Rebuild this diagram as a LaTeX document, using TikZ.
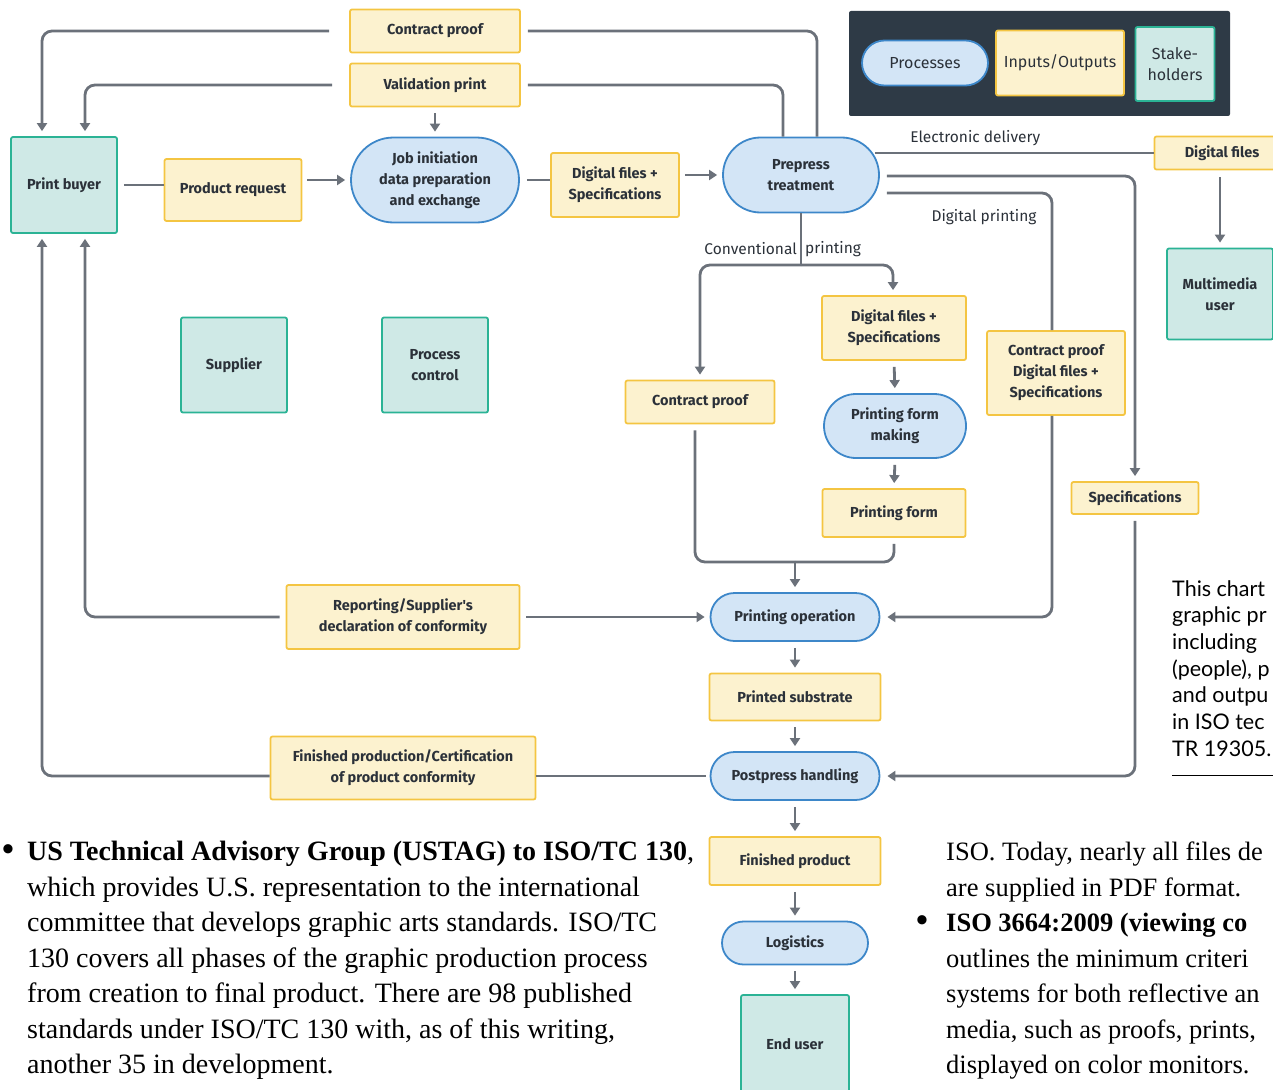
\documentclass[tikz,border=0pt]{standalone}
\usepackage{fontspec}
\usetikzlibrary{arrows.meta}
\usetikzlibrary{shapes.misc}

\newfontfamily\dinfont{Fira Sans}
\newfontfamily\bodyfont{Liberation Serif}
\newfontfamily\notefont{Lato}

\definecolor{iofill}{HTML}{FCF2CF}
\definecolor{iodraw}{HTML}{F4C542}
\definecolor{procfill}{HTML}{D3E5F6}
\definecolor{procdraw}{HTML}{3D87C9}
\definecolor{stakefill}{HTML}{CFE9E6}
\definecolor{stakedraw}{HTML}{2BB395}
\definecolor{flowgray}{HTML}{6B717A}
\definecolor{labeltext}{HTML}{2B3139}
\definecolor{keybg}{HTML}{2E3A46}

\tikzset{
  boxtext/.style={font=\dinfont\bfseries\fontsize{14.5}{21}\selectfont, text=labeltext, align=center, line width=1.8pt, inner sep=1pt},
  io/.style={boxtext, draw=iodraw, fill=iofill, rounded corners=2pt},
  proc/.style={boxtext, rounded rectangle, draw=procdraw, fill=procfill},
  stake/.style={boxtext, draw=stakedraw, fill=stakefill, rounded corners=2pt},
  flow/.style={draw=flowgray, line width=2.8pt, rounded corners=10pt},
  arr/.style={flow, -{Triangle[width=10pt,length=8pt]}, shorten >=5pt},
  flowlabel/.style={font=\dinfont\fontsize{15.5}{18}\selectfont, text=labeltext, inner sep=0pt},
  keytext/.style={font=\dinfont\fontsize{16}{21}\selectfont},
  bodytext/.style={font=\bodyfont\fontsize{28}{35.5}\selectfont, align=left, inner sep=0pt},
}

\begin{document}
\begin{tikzpicture}[x=1pt,y=-1pt]
\useasboundingbox (0,0) rectangle (1273,1089);
\clip (0,0) rectangle (1273,1089);

% key
\fill[keybg, rounded corners=2pt] (849,11) rectangle (1230,116);
\node[proc, keytext, minimum width=128, minimum height=45] (keyproc) at (925,63) {Processes};
\node[io, keytext, minimum width=128, minimum height=65] (keyio) at (1060,63) {Inputs/Outputs};
\node[stake, keytext, minimum width=79, minimum height=74] (keystake) at (1175,64) {Stake-\\holders};

% stakeholders
\node[stake, minimum width=106, minimum height=96] (buyer) at (64,185) {Print buyer};
\node[stake, minimum width=106, minimum height=95] (supplier) at (234,365) {Supplier};
\node[stake, minimum width=106, minimum height=95] (pcontrol) at (435,365) {Process\\control};
\node[stake, minimum width=106, minimum height=91] (mmuser) at (1220,294) {Multimedia\\user};
\node[stake, minimum width=108, minimum height=98] (enduser) at (795,1044) {End user};

% processes
\node[proc, minimum width=170, minimum height=85] (jobinit) at (435,180) {Job initiation\\data preparation\\and exchange};
\node[proc, minimum width=158, minimum height=75] (prepress) at (801,175) {Prepress\\treatment};
\node[proc, minimum width=144, minimum height=64] (pfmaking) at (895,426) {Printing form\\making};
\node[proc, minimum width=171, minimum height=48] (printop) at (795,617) {Printing operation};
\node[proc, minimum width=171, minimum height=48] (postpress) at (795,776) {Postpress handling};
\node[proc, minimum width=148, minimum height=43] (logistics) at (795,943) {Logistics};

% inputs / outputs
\node[io, minimum width=170, minimum height=43] (cproofA) at (435,31) {Contract proof};
\node[io, minimum width=170, minimum height=43] (valprint) at (435,85) {Validation print};
\node[io, minimum width=137, minimum height=62] (prodreq) at (233,190) {Product request};
\node[io, minimum width=128, minimum height=64] (dfspecA) at (615,185) {Digital files +\\Specifications};
\node[io, minimum width=135, minimum height=33] (dfiles) at (1222,153) {Digital files};
\node[io, minimum width=149, minimum height=43] (cproofB) at (700,402) {Contract proof};
\node[io, minimum width=144, minimum height=64] (dfspecB) at (894,328) {Digital files +\\Specifications};
\node[io, minimum width=143, minimum height=48] (pform) at (894,513) {Printing form};
\node[io, minimum width=138, minimum height=84] (cpdfspec) at (1056,373) {Contract proof\\Digital files +\\Specifications};
\node[io, minimum width=127, minimum height=32] (specs) at (1135,498) {Specifications};
\node[io, minimum width=233, minimum height=64] (report) at (403,617) {Reporting/Supplier's\\declaration of conformity};
\node[io, minimum width=171, minimum height=47] (substrate) at (795,697) {Printed substrate};
\node[io, minimum width=265, minimum height=63] (finprod) at (403,768) {Finished production/Certification\\of product conformity};
\node[io, minimum width=171, minimum height=48] (finished) at (795,861) {Finished product};

% top loops back to the print buyer
\draw[arr] ([xshift=-20pt]cproofA.west) -| ([xshift=-22pt]buyer.north);
\draw[arr] ([xshift=-17pt]valprint.west) -| ([xshift=21pt]buyer.north);
\draw[flow] ([xshift=7pt]cproofA.east) -| ([xshift=16pt]prepress.north);
\draw[flow] ([xshift=7pt]valprint.east) -| ([xshift=-18pt]prepress.north);
\draw[arr, shorten <=6pt] (valprint.south) -- (jobinit.north);

% job flow
\draw[flow, shorten <=6pt] (buyer.east) -- (prodreq.west |- buyer.east);
\draw[arr, shorten <=5pt] (prodreq.east |- jobinit.west) -- (jobinit.west);
\draw[flow, shorten <=7pt] (jobinit.east) -- (dfspecA.west |- jobinit.east);
\draw[arr, shorten <=5pt] (dfspecA.east |- prepress.west) -- (prepress.west);

% electronic delivery
\draw[flow] ([xshift=-5pt,yshift=22pt]prepress.east) -- (dfiles.west |- 0,153)
  node[flowlabel, pos=0.36, above=6pt] (eldeliv) {Electronic delivery};
\draw[arr, shorten <=7pt] (dfiles.south -| mmuser.north) -- (mmuser.north);

% digital printing
\draw[arr] ([xshift=7pt,yshift=-1pt]prepress.east) -| (specs.north);
\draw[flow] ([xshift=7pt,yshift=-18pt]prepress.east) -| ([xshift=-4pt]cpdfspec.north);
\draw[arr] ([xshift=-4pt]cpdfspec.south) |- ([xshift=2pt]printop.east);
\node[flowlabel] (digprint) at (984,217) {Digital printing};
\draw[arr, shorten <=6pt] (specs.south) |- ([xshift=2pt]postpress.east);

% conventional printing
\coordinate (conv) at (801,265);
\draw[flow] (prepress.south) -- (conv);
\draw[arr] (conv) -| (cproofB.north);
\draw[arr] (conv) -| ([xshift=-1pt]dfspecB.north);
\node[flowlabel, anchor=east] (convA) at (797,249) {Conventional};
\node[flowlabel, anchor=west] (convB) at (805,249) {printing};
\draw[arr, shorten <=6pt] (dfspecB.south) -- (pfmaking.north);
\draw[arr, shorten <=6pt] (pfmaking.south) -- (pform.north);

% into printing
\coordinate (join) at (795,562);
\draw[flow] ([xshift=-5pt,yshift=-6pt]cproofB.south) |- (join);
\draw[flow] ([yshift=-6pt]pform.south) |- (join);
\draw[arr] (join) -- (printop.north);
\draw[arr, shorten <=6pt] (report.east) -- (printop.west);
\draw[arr] ([xshift=-6pt]report.west) -| ([xshift=21pt]buyer.south);

% down the line
\draw[arr, shorten <=6pt] (printop.south) -- (substrate.north);
\draw[arr, shorten <=6pt] (substrate.south) -- (postpress.north);
\draw[arr, shorten <=6pt] (postpress.south) -- (finished.north);
\draw[arr, shorten <=6pt] (finished.south) -- (logistics.north);
\draw[arr, shorten <=6pt] (logistics.south) -- (enduser.north);
\draw[flow, shorten <=4pt] (postpress.west) -- (finprod.east |- postpress.west);
\draw[arr] (finprod.west |- postpress.west) -| ([xshift=-22pt]buyer.south);

% page text around the chart
\node[font=\notefont\fontsize{21.5}{26.7}\selectfont, align=left, inner sep=0pt, anchor=north west] (chartnote) at (1172,580)
  {This chart\\graphic pr\\including\\(people), p\\and outpu\\in ISO tec\\TR 19305.};
\draw[line width=1pt] (1172,775) -- (1273,775);

\node[bodytext, font=\bodyfont\bfseries\fontsize{34}{35}\selectfont] (bulletA) at (8,853) {\textbullet};
\node[bodytext, anchor=north west] (leftcol) at (27,841)
  {\textbf{US Technical Advisory Group (USTAG) to ISO/TC 130},\\
   which provides U.S. representation to the international\\
   committee that develops graphic arts standards. ISO/TC\\
   130 covers all phases of the graphic production process\\
   from creation to final product. There are 98 published\\
   standards under ISO/TC 130 with, as of this writing,\\
   another 35 in development.};
\node[bodytext, font=\bodyfont\fontsize{26.5}{35.5}\selectfont, anchor=north west] (rightcol) at (946,842)
  {ISO. Today, nearly all files de\\
   are supplied in PDF format.\\
   \textbf{ISO 3664:2009 (viewing co}\\
   outlines the minimum criteri\\
   systems for both reflective an\\
   media, such as proofs, prints,\\
   displayed on color monitors.};
\node[bodytext, font=\bodyfont\bfseries\fontsize{34}{35}\selectfont] (bulletB) at (922,924) {\textbullet};
\end{tikzpicture}
\end{document}
